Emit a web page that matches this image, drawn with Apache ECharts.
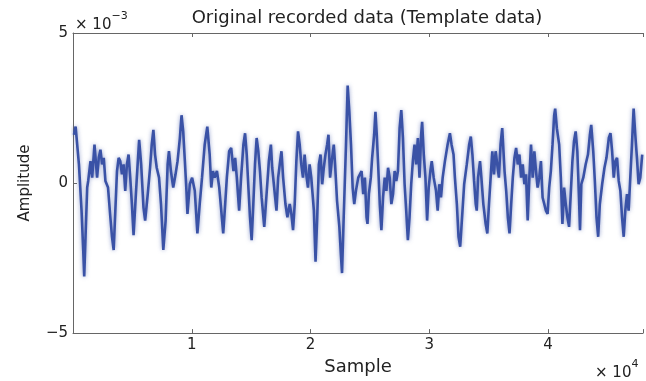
<!DOCTYPE html>
<html>
<head>
<meta charset="utf-8">
<script src="https://cdn.jsdelivr.net/npm/echarts@6/dist/echarts.min.js"></script>
<style>
  html, body { margin: 0; padding: 0; background: #fff; }
  #main { width: 646px; height: 381px; }
</style>
</head>
<body>
<div id="main"></div>
<script>
// sample number of each traced point
var sampleIdx = [
  80, 220, 500, 720, 860, 945, 1055, 1195, 1280, 1475, 1615, 1810, 1890, 2030, 2170, 2310, 2450, 2590, 2730, 2950,
  3145, 3285, 3425, 3565, 3705, 3845, 3980, 4120, 4260, 4400, 4540, 4680, 4820, 4960, 5100, 5375, 5570, 5740, 5935, 6075,
  6295, 6490, 6630, 6770, 6910, 7050, 7245, 7410, 7605, 7800, 7970, 8080, 8245, 8440, 8635, 8805, 9000, 9140, 9280, 9420,
  9555, 9640, 9835, 10030, 10255, 10475, 10670, 10865, 11090, 11310, 11510, 11645, 11785, 11925,
  12120, 12315, 12485, 12650, 12815, 12955, 13150, 13320, 13515, 13655, 13795, 13990, 14155, 14350, 14490, 14630, 14770, 14905, 15045, 15185,
  15325, 15465, 15605, 15745, 15885, 16105, 16300, 16495, 16665, 16775, 16940, 17135, 17275, 17445, 17555, 17695, 17890, 18055, 18250, 18390,
  18530, 18670, 18810, 18950, 19090, 19225, 19365, 19505, 19645, 19785, 19925, 20065, 20285, 20425, 20565, 20705, 20845, 20985, 21120, 21260,
  21400, 21515, 21650, 21790, 21960, 22070, 22235, 22430, 22570, 22655, 22795, 22990, 23130, 23270, 23410, 23550, 23685, 23825, 24020,
  24300, 24440, 24580, 24720, 24800, 24915, 25080, 25190, 25360, 25470, 25580, 25695, 25835, 25970, 26110, 26250, 26390, 26530, 26670, 26810,
  26950, 27085, 27225, 27365, 27505, 27645, 27785, 27925, 28060, 28200, 28340, 28480, 28620, 28760, 28900, 29040, 29180, 29315, 29400, 29540,
  29680, 29820, 29955, 30095, 30210, 30375, 30570, 30710, 30850, 30990, 31130, 31320, 31545, 31740, 31880, 32045, 32160, 32325, 32465, 32605,
  32800, 32940, 33160, 33360, 33500, 33635, 33775, 33915, 34000, 34110, 34275, 34390, 34555, 34750, 34890, 35030, 35170, 35310, 35450, 35590,
  35725, 35865, 36005, 36145,
  36340, 36480, 36620, 36760, 36900, 37035, 37175, 37315, 37455, 37595, 37735, 37875, 38010, 38150, 38290, 38430, 38570, 38710, 38850, 38990,
  39125, 39265, 39405, 39545, 39685, 39825, 39965, 40100, 40240, 40380, 40520, 40605, 40745, 40940, 41080, 41215, 41355, 41495, 41635, 41775,
  41915, 42055, 42190, 42330, 42470, 42610, 42695, 42805, 42970, 43170, 43365, 43530, 43640, 43810, 43945, 44085, 44225, 44365, 44560, 44755,
  44925, 45120, 45260, 45400, 45535, 45675, 45815, 45955, 46095, 46235, 46375, 46510, 46650, 46790, 46930, 47070, 47210, 47350, 47490, 47630,
  47770, 47935
];
// amplitude, in units of 1e-3
var amplitude = [
  1.61, 1.88, 0.62, -0.92, -2.23, -3.11, -1.79, -0.15, 0.07, 0.73, 0.18, 1.28, 1.33, 0.18, 0.84, 1.11, 0.62, 0.84, 0.07, -0.15,
  -1.14, -1.79, -2.23, -0.92, 0.40, 0.84, 0.73, 0.29, 0.62, -0.26, 0.62, 0.95, 0.18, -0.70, -1.74, 0.18, 1.44, 0.62, -0.81, -1.25,
  -0.37, 0.51, 1.28, 1.77, 0.95, 0.51, 0.18, -0.70, -2.23, -1.25, 0.62, 1.06, 0.40, -0.15, 0.29, 0.73, 1.50, 2.26, 1.72, 0.73,
  -0.26, -1.03, -0.04, 0.18, -0.26, -1.68, -0.70, 0.18, 1.28, 1.88, 0.95, -0.15, 0.40, 0.18,
  0.40, -0.15, -0.92, -1.68, -0.70, 0.18, 1.06, 1.17, 0.40, 0.84, 0.18, -0.92, 0.18, 1.28, 1.66, 0.95, -0.15, -1.14, -1.90, -0.70,
  0.62, 1.50, 1.06, 0.40, -0.48, -1.46, -0.37, 0.73, 1.28, 0.51, -0.15, -0.92, 0.18, 0.73, 1.06, 0.18, -0.70, -1.14, -0.70, -1.03,
  -1.57, -0.70, 0.73, 1.72, 1.28, 0.62, 0.18, 0.95, 0.29, -0.15, 0.62, 0.18, -0.92, -2.62, -1.14, 0.62, 0.95, -0.04, 0.51, 0.95,
  1.28, 1.61, 0.18, 0.73, 1.28, 0.62, -0.59, -1.46, -2.45, -3.00, -1.14, 1.28, 3.25, 2.37, 1.28, -0.15, -0.70, -0.26, 0.18,
  0.40, -0.37, 0.18, -1.14, -1.36, -0.37, 0.18, 0.84, 1.61, 2.37, 1.61, 0.62, -0.70, -1.57, -0.48, 0.18, -0.26, 0.51, 0.18, -0.70,
  -0.37, 0.40, 0.07, 0.40, 1.83, 2.43, 1.50, -0.04, -0.92, -1.90, -1.14, -0.04, 0.73, 1.28, 0.62, 1.50, 0.18, 1.61, 2.04, 0.95,
  0.18, -1.25, -0.15, 0.40, 0.73, 0.18, -0.26, -0.92, -0.04, -0.48, 0.18, 0.73, 1.28, 1.66, 1.28, 0.95, 0.18, -0.70, -1.79, -2.12,
  -0.92, -0.04, 0.62, 1.28, 1.55, 0.95, 0.07, -0.70, -0.92, 0.18, 0.73, 0.18, -0.70, -1.36, -1.68, -0.70, 0.18, 1.06, 0.29, 1.06,
  0.62, 0.18, 1.28, 1.83,
  0.40, -0.26, -1.14, -1.68, -0.70, 0.18, 0.84, 1.17, 0.62, 0.95, 0.18, 0.62, -0.04, 0.29, -1.25, 0.18, 1.28, 0.18, 1.06, 0.40,
  -0.15, 0.18, 0.73, -0.48, -0.70, -0.92, -1.03, -0.15, 0.40, 1.28, 2.26, 2.48, 1.83, 1.28, 0.18, -1.36, -0.15, -0.70, -1.14, -1.46,
  -0.37, 0.73, 1.39, 1.72, 1.06, -0.48, -1.57, -0.04, 0.18, 0.62, 0.95, 1.61, 1.94, 1.06, 0.07, -1.14, -1.79, -0.70, -0.04, 0.51,
  0.84, 1.50, 1.66, 1.06, 0.18, 0.73, 0.84, 0.07, -0.26, -1.14, -1.79, -0.92, -0.37, -0.92, 0.18, 1.28, 2.48, 1.61, 0.84, -0.04,
  0.18, 0.95
];
var xMax = 48000;
var yTicks = [-5, 0, 5];

var chart = echarts.init(document.getElementById("main"));
var points = [];
for (var i = 0; i < sampleIdx.length; i++) {
  points.push([sampleIdx[i], amplitude[i]]);
}

var fontFam = "DejaVu Sans, sans-serif";
var axisGrey = "#666";
var txt = "#222";

option = {
  animation: false,
  backgroundColor: "#fff",
  title: {
    text: "Original recorded data (Template data)",
    left: 362,
    textAlign: "center",
    top: 4,
    textStyle: { fontFamily: fontFam, fontSize: 18, fontWeight: "normal", color: txt }
  },
  grid: { left: 73, top: 33, width: 574, bottom: 44 },
  xAxis: [
    {
      type: "value",
      min: 0,
      max: xMax,
      interval: 10000,
      position: "bottom",
      name: "Sample",
      nameLocation: "middle",
      nameGap: 21,
      nameTextStyle: { fontFamily: fontFam, fontSize: 18, color: txt },
      axisLine: { onZero: false, lineStyle: { color: axisGrey, width: 1 } },
      axisTick: { inside: true, length: 4, lineStyle: { color: axisGrey } },
      axisLabel: {
        margin: 5,
        fontFamily: fontFam, fontSize: 15, color: txt,
        formatter: function (v) { return (v === 0 || v % 10000 !== 0) ? "" : String(v / 10000); }
      },
      splitLine: { show: false }
    },
    {
      type: "value",
      min: 0,
      max: xMax,
      interval: 10000,
      position: "top",
      axisLine: { onZero: false, lineStyle: { color: axisGrey, width: 1 } },
      axisTick: { inside: true, length: 4, lineStyle: { color: axisGrey } },
      axisLabel: { show: false },
      splitLine: { show: false }
    }
  ],
  yAxis: {
    type: "value",
    min: yTicks[0],
    max: yTicks[yTicks.length - 1],
    interval: 5,
    name: "Amplitude",
    nameLocation: "middle",
    nameRotate: 90,
    nameGap: 40,
    nameTextStyle: { fontFamily: fontFam, fontSize: 15, color: txt },
    axisLine: { show: true, onZero: false, lineStyle: { color: axisGrey, width: 1 } },
    axisTick: { show: true, inside: true, length: 4, lineStyle: { color: axisGrey } },
    axisLabel: {
      margin: 5,
      fontFamily: fontFam, fontSize: 15, color: txt,
      formatter: function (v) { return v < 0 ? "\u2212" + (-v) : String(v); }
    },
    splitLine: { show: false }
  },
  graphic: [
    {
      type: "text",
      left: 75,
      top: 11,
      style: {
        text: "{a|\u00d7 10}{b|\u22123}",
        rich: {
          a: { fontFamily: fontFam, fontSize: 15, fill: txt, padding: [7, 0, 0, 0] },
          b: { fontFamily: fontFam, fontSize: 11, fill: txt, verticalAlign: "top" }
        }
      }
    },
    {
      type: "text",
      left: 595,
      top: 359,
      style: {
        text: "{a|\u00d7 10}{b|4}",
        rich: {
          a: { fontFamily: fontFam, fontSize: 15, fill: txt, padding: [7, 0, 0, 0] },
          b: { fontFamily: fontFam, fontSize: 11, fill: txt, verticalAlign: "top" }
        }
      }
    }
  ],
  series: [
    {
      name: "Amplitude",
      type: "line",
      xAxisIndex: 0,
      data: points,
      showSymbol: false,
      symbol: "none",
      lineStyle: {
        color: "#3a52a6",
        width: 2.6,
        shadowColor: "rgba(58,82,166,0.55)",
        shadowBlur: 4
      },
      clip: true
    }
  ]
};

chart.setOption(option);
window.addEventListener("resize", function () {
  chart.resize();
});
</script>
</body>
</html>
